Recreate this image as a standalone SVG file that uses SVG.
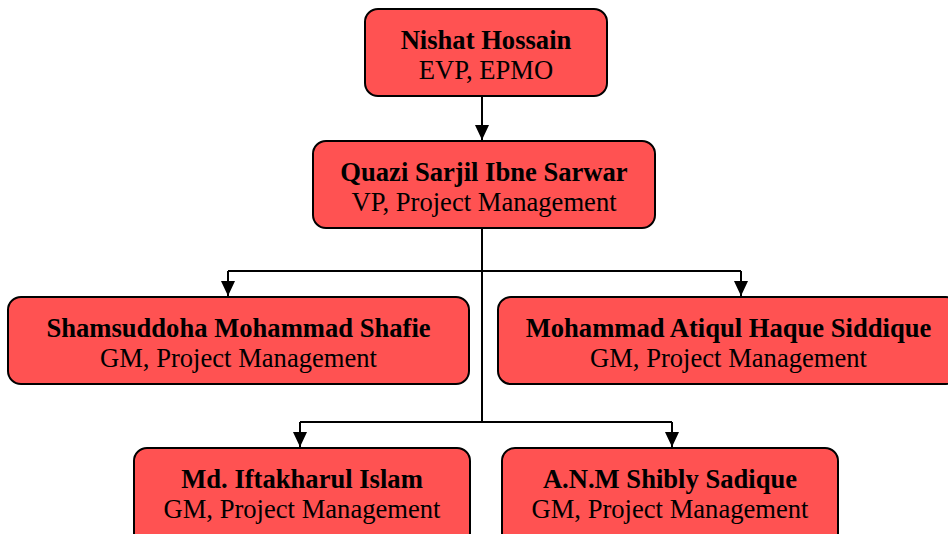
<svg xmlns="http://www.w3.org/2000/svg" width="948" height="534" viewBox="0 0 948 534">
<style>
.box{fill:#ff5252;stroke:#000;stroke-width:2}
.n{font-family:"Liberation Serif","Times New Roman",serif;font-size:26.6px;font-weight:bold;text-anchor:middle;fill:#000}
.t{font-family:"Liberation Serif","Times New Roman",serif;font-size:26.6px;text-anchor:middle;fill:#000}
.c{fill:none;stroke:#000;stroke-width:2}
</style>
<defs>
<marker id="ah" markerWidth="16" markerHeight="16" refX="15" refY="7" orient="auto" markerUnits="userSpaceOnUse" viewBox="0 0 16 14">
<path d="M0,0 L15,7 L0,14 Z" fill="#000"/>
</marker>
</defs>
<g id="connectors">
<path class="c" d="M482,96 V140" marker-end="url(#ah)"/>
<path class="c" d="M482,228 V422"/>
<path class="c" d="M228,271 H741"/>
<path class="c" d="M228,271 V296" marker-end="url(#ah)"/>
<path class="c" d="M741,271 V296" marker-end="url(#ah)"/>
<path class="c" d="M300,422 H672"/>
<path class="c" d="M300,422 V447" marker-end="url(#ah)"/>
<path class="c" d="M672,422 V447" marker-end="url(#ah)"/>
</g>
<g id="n1"><rect class="box" x="365" y="9" width="242" height="87" rx="13"/><text class="n" x="486" y="49">Nishat Hossain</text><text class="t" x="486" y="79">EVP, EPMO</text></g>
<g id="n2"><rect class="box" x="313" y="141" width="342" height="87" rx="13"/><text class="n" x="484" y="181">Quazi Sarjil Ibne Sarwar</text><text class="t" x="484" y="211">VP, Project Management</text></g>
<g id="n3"><rect class="box" x="8" y="297" width="461" height="87" rx="13"/><text class="n" x="238.5" y="337">Shamsuddoha Mohammad Shafie</text><text class="t" x="238.5" y="367">GM, Project Management</text></g>
<g id="n4"><rect class="box" x="498" y="297" width="461" height="87" rx="13"/><text class="n" x="728.5" y="337">Mohammad Atiqul Haque Siddique</text><text class="t" x="728.5" y="367">GM, Project Management</text></g>
<g id="n5"><rect class="box" x="134" y="448" width="336" height="100" rx="13"/><text class="n" x="302" y="488">Md. Iftakharul Islam</text><text class="t" x="302" y="518">GM, Project Management</text></g>
<g id="n6"><rect class="box" x="502" y="448" width="336" height="100" rx="13"/><text class="n" x="670" y="488">A.N.M Shibly Sadique</text><text class="t" x="670" y="518">GM, Project Management</text></g>
</svg>
